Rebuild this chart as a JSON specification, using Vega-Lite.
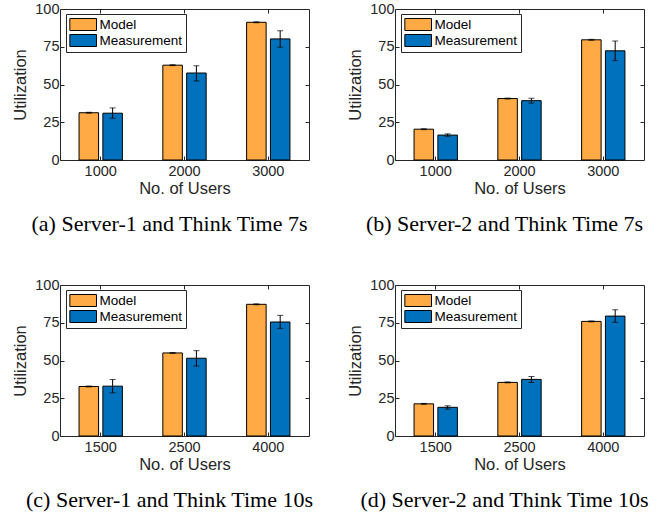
{
  "$schema": "https://vega.github.io/schema/vega-lite/v6.json",
  "padding": {"left": 12, "top": 0, "right": 0, "bottom": 0},
  "background": "white",
  "data": {"values": [
    {"panel": "a", "users": "1000", "series": "Model", "value": 31.3, "lo": 31.0, "hi": 31.6},
    {"panel": "a", "users": "1000", "series": "Measurement", "value": 31.0, "lo": 27.7, "hi": 34.5},
    {"panel": "a", "users": "2000", "series": "Model", "value": 62.8, "lo": 62.5, "hi": 63.1},
    {"panel": "a", "users": "2000", "series": "Measurement", "value": 57.6, "lo": 52.3, "hi": 62.4},
    {"panel": "a", "users": "3000", "series": "Model", "value": 91.2, "lo": 90.9, "hi": 91.5},
    {"panel": "a", "users": "3000", "series": "Measurement", "value": 80.2, "lo": 74.7, "hi": 85.6},
    {"panel": "b", "users": "1000", "series": "Model", "value": 20.4, "lo": 20.1, "hi": 20.7},
    {"panel": "b", "users": "1000", "series": "Measurement", "value": 16.5, "lo": 15.7, "hi": 17.3},
    {"panel": "b", "users": "2000", "series": "Model", "value": 40.7, "lo": 40.4, "hi": 41.0},
    {"panel": "b", "users": "2000", "series": "Measurement", "value": 39.3, "lo": 37.7, "hi": 40.9},
    {"panel": "b", "users": "3000", "series": "Model", "value": 79.6, "lo": 79.3, "hi": 79.9},
    {"panel": "b", "users": "3000", "series": "Measurement", "value": 72.3, "lo": 65.8, "hi": 78.8},
    {"panel": "c", "users": "1500", "series": "Model", "value": 32.8, "lo": 32.5, "hi": 33.1},
    {"panel": "c", "users": "1500", "series": "Measurement", "value": 33.0, "lo": 28.6, "hi": 37.4},
    {"panel": "c", "users": "2500", "series": "Model", "value": 55.0, "lo": 54.7, "hi": 55.3},
    {"panel": "c", "users": "2500", "series": "Measurement", "value": 51.5, "lo": 46.3, "hi": 56.5},
    {"panel": "c", "users": "4000", "series": "Model", "value": 87.2, "lo": 86.9, "hi": 87.5},
    {"panel": "c", "users": "4000", "series": "Measurement", "value": 75.5, "lo": 71.3, "hi": 79.9},
    {"panel": "d", "users": "1500", "series": "Model", "value": 21.3, "lo": 21.0, "hi": 21.6},
    {"panel": "d", "users": "1500", "series": "Measurement", "value": 19.0, "lo": 17.8, "hi": 20.0},
    {"panel": "d", "users": "2500", "series": "Model", "value": 35.5, "lo": 35.2, "hi": 35.8},
    {"panel": "d", "users": "2500", "series": "Measurement", "value": 37.5, "lo": 35.5, "hi": 39.4},
    {"panel": "d", "users": "4000", "series": "Model", "value": 75.9, "lo": 75.6, "hi": 76.2},
    {"panel": "d", "users": "4000", "series": "Measurement", "value": 79.4, "lo": 75.3, "hi": 83.6}
  ]},
  "columns": 2,
  "spacing": {"row": 125, "column": 86},
  "bounds": "flush",
  "resolve": {"scale": {"x": "independent", "y": "independent", "xOffset": "independent", "fill": "independent"}, "legend": {"fill": "independent"}},
  "concat": [
    {
      "width": 249, "height": 151,
      "title": {"text": "(a) Server-1 and Think Time 7s"},
      "transform": [{"filter": "datum.panel == 'a'"}],
      "resolve": {"axis": {"x": "independent", "y": "independent"}},
      "layer": [
        {"mark": {"type": "bar", "stroke": "black", "strokeWidth": 1},
         "encoding": {
           "x": {"field": "users", "type": "nominal", "sort": null, "scale": {"paddingInner": 0.483, "paddingOuter": 0.2275}, "axis": {"title": "No. of Users"}},
           "xOffset": {"field": "series", "sort": ["Model", "Measurement"], "scale": {"paddingInner": 0.18}},
           "y": {"field": "value", "type": "quantitative", "scale": {"domain": [0, 100]}, "axis": {"title": "Utilization", "values": [0, 25, 50, 75, 100]}},
           "fill": {"field": "series", "type": "nominal", "sort": ["Model", "Measurement"], "scale": {"range": ["#FFAA44", "#0072BD"]}, "legend": {"title": null}}
         }},
        {"mark": {"type": "rule", "color": "black", "strokeWidth": 1},
         "encoding": {
           "x": {"field": "users", "type": "nominal", "sort": null, "axis": null},
           "xOffset": {"field": "series", "sort": ["Model", "Measurement"]},
           "y": {"field": "lo", "type": "quantitative", "axis": null},
           "y2": {"field": "hi"}
         }},
        {"mark": {"type": "tick", "color": "black", "size": 6, "thickness": 1},
         "encoding": {
           "x": {"field": "users", "type": "nominal", "sort": null, "axis": null},
           "xOffset": {"field": "series", "sort": ["Model", "Measurement"]},
           "y": {"field": "lo", "type": "quantitative", "axis": null}
         }},
        {"mark": {"type": "tick", "color": "black", "size": 6, "thickness": 1},
         "encoding": {
           "x": {"field": "users", "type": "nominal", "sort": null, "axis": null},
           "xOffset": {"field": "series", "sort": ["Model", "Measurement"]},
           "y": {"field": "hi", "type": "quantitative", "axis": null}
         }},
        {"mark": {"type": "point", "opacity": 0},
         "encoding": {
           "x": {"field": "users", "type": "nominal", "sort": null, "axis": {"orient": "top", "labels": false, "title": null}},
           "y": {"field": "value", "type": "quantitative", "axis": {"orient": "right", "labels": false, "title": null, "values": [25, 50, 75]}}
         }}
      ]
    },
    {
      "width": 249, "height": 151,
      "title": {"text": "(b) Server-2 and Think Time 7s"},
      "transform": [{"filter": "datum.panel == 'b'"}],
      "resolve": {"axis": {"x": "independent", "y": "independent"}},
      "layer": [
        {"mark": {"type": "bar", "stroke": "black", "strokeWidth": 1},
         "encoding": {
           "x": {"field": "users", "type": "nominal", "sort": null, "scale": {"paddingInner": 0.483, "paddingOuter": 0.2275}, "axis": {"title": "No. of Users"}},
           "xOffset": {"field": "series", "sort": ["Model", "Measurement"], "scale": {"paddingInner": 0.18}},
           "y": {"field": "value", "type": "quantitative", "scale": {"domain": [0, 100]}, "axis": {"title": "Utilization", "values": [0, 25, 50, 75, 100]}},
           "fill": {"field": "series", "type": "nominal", "sort": ["Model", "Measurement"], "scale": {"range": ["#FFAA44", "#0072BD"]}, "legend": {"title": null}}
         }},
        {"mark": {"type": "rule", "color": "black", "strokeWidth": 1},
         "encoding": {
           "x": {"field": "users", "type": "nominal", "sort": null, "axis": null},
           "xOffset": {"field": "series", "sort": ["Model", "Measurement"]},
           "y": {"field": "lo", "type": "quantitative", "axis": null},
           "y2": {"field": "hi"}
         }},
        {"mark": {"type": "tick", "color": "black", "size": 6, "thickness": 1},
         "encoding": {
           "x": {"field": "users", "type": "nominal", "sort": null, "axis": null},
           "xOffset": {"field": "series", "sort": ["Model", "Measurement"]},
           "y": {"field": "lo", "type": "quantitative", "axis": null}
         }},
        {"mark": {"type": "tick", "color": "black", "size": 6, "thickness": 1},
         "encoding": {
           "x": {"field": "users", "type": "nominal", "sort": null, "axis": null},
           "xOffset": {"field": "series", "sort": ["Model", "Measurement"]},
           "y": {"field": "hi", "type": "quantitative", "axis": null}
         }},
        {"mark": {"type": "point", "opacity": 0},
         "encoding": {
           "x": {"field": "users", "type": "nominal", "sort": null, "axis": {"orient": "top", "labels": false, "title": null}},
           "y": {"field": "value", "type": "quantitative", "axis": {"orient": "right", "labels": false, "title": null, "values": [25, 50, 75]}}
         }}
      ]
    },
    {
      "width": 249, "height": 151,
      "title": {"text": "(c) Server-1 and Think Time 10s"},
      "transform": [{"filter": "datum.panel == 'c'"}],
      "resolve": {"axis": {"x": "independent", "y": "independent"}},
      "layer": [
        {"mark": {"type": "bar", "stroke": "black", "strokeWidth": 1},
         "encoding": {
           "x": {"field": "users", "type": "nominal", "sort": null, "scale": {"paddingInner": 0.483, "paddingOuter": 0.2275}, "axis": {"title": "No. of Users"}},
           "xOffset": {"field": "series", "sort": ["Model", "Measurement"], "scale": {"paddingInner": 0.18}},
           "y": {"field": "value", "type": "quantitative", "scale": {"domain": [0, 100]}, "axis": {"title": "Utilization", "values": [0, 25, 50, 75, 100]}},
           "fill": {"field": "series", "type": "nominal", "sort": ["Model", "Measurement"], "scale": {"range": ["#FFAA44", "#0072BD"]}, "legend": {"title": null}}
         }},
        {"mark": {"type": "rule", "color": "black", "strokeWidth": 1},
         "encoding": {
           "x": {"field": "users", "type": "nominal", "sort": null, "axis": null},
           "xOffset": {"field": "series", "sort": ["Model", "Measurement"]},
           "y": {"field": "lo", "type": "quantitative", "axis": null},
           "y2": {"field": "hi"}
         }},
        {"mark": {"type": "tick", "color": "black", "size": 6, "thickness": 1},
         "encoding": {
           "x": {"field": "users", "type": "nominal", "sort": null, "axis": null},
           "xOffset": {"field": "series", "sort": ["Model", "Measurement"]},
           "y": {"field": "lo", "type": "quantitative", "axis": null}
         }},
        {"mark": {"type": "tick", "color": "black", "size": 6, "thickness": 1},
         "encoding": {
           "x": {"field": "users", "type": "nominal", "sort": null, "axis": null},
           "xOffset": {"field": "series", "sort": ["Model", "Measurement"]},
           "y": {"field": "hi", "type": "quantitative", "axis": null}
         }},
        {"mark": {"type": "point", "opacity": 0},
         "encoding": {
           "x": {"field": "users", "type": "nominal", "sort": null, "axis": {"orient": "top", "labels": false, "title": null}},
           "y": {"field": "value", "type": "quantitative", "axis": {"orient": "right", "labels": false, "title": null, "values": [25, 50, 75]}}
         }}
      ]
    },
    {
      "width": 249, "height": 151,
      "title": {"text": "(d) Server-2 and Think Time 10s"},
      "transform": [{"filter": "datum.panel == 'd'"}],
      "resolve": {"axis": {"x": "independent", "y": "independent"}},
      "layer": [
        {"mark": {"type": "bar", "stroke": "black", "strokeWidth": 1},
         "encoding": {
           "x": {"field": "users", "type": "nominal", "sort": null, "scale": {"paddingInner": 0.483, "paddingOuter": 0.2275}, "axis": {"title": "No. of Users"}},
           "xOffset": {"field": "series", "sort": ["Model", "Measurement"], "scale": {"paddingInner": 0.18}},
           "y": {"field": "value", "type": "quantitative", "scale": {"domain": [0, 100]}, "axis": {"title": "Utilization", "values": [0, 25, 50, 75, 100]}},
           "fill": {"field": "series", "type": "nominal", "sort": ["Model", "Measurement"], "scale": {"range": ["#FFAA44", "#0072BD"]}, "legend": {"title": null}}
         }},
        {"mark": {"type": "rule", "color": "black", "strokeWidth": 1},
         "encoding": {
           "x": {"field": "users", "type": "nominal", "sort": null, "axis": null},
           "xOffset": {"field": "series", "sort": ["Model", "Measurement"]},
           "y": {"field": "lo", "type": "quantitative", "axis": null},
           "y2": {"field": "hi"}
         }},
        {"mark": {"type": "tick", "color": "black", "size": 6, "thickness": 1},
         "encoding": {
           "x": {"field": "users", "type": "nominal", "sort": null, "axis": null},
           "xOffset": {"field": "series", "sort": ["Model", "Measurement"]},
           "y": {"field": "lo", "type": "quantitative", "axis": null}
         }},
        {"mark": {"type": "tick", "color": "black", "size": 6, "thickness": 1},
         "encoding": {
           "x": {"field": "users", "type": "nominal", "sort": null, "axis": null},
           "xOffset": {"field": "series", "sort": ["Model", "Measurement"]},
           "y": {"field": "hi", "type": "quantitative", "axis": null}
         }},
        {"mark": {"type": "point", "opacity": 0},
         "encoding": {
           "x": {"field": "users", "type": "nominal", "sort": null, "axis": {"orient": "top", "labels": false, "title": null}},
           "y": {"field": "value", "type": "quantitative", "axis": {"orient": "right", "labels": false, "title": null, "values": [25, 50, 75]}}
         }}
      ]
    }
  ],
  "config": {
    "font": "Liberation Sans",
    "view": {"stroke": "#262626", "strokeWidth": 1},
    "axis": {
      "domain": false, "grid": false,
      "tickSize": -4, "tickColor": "#262626", "tickWidth": 1,
      "labelFont": "Liberation Sans", "labelFontSize": 14.5, "labelColor": "#262626",
      "titleFont": "Liberation Sans", "titleFontSize": 16.5, "titleFontWeight": "normal", "titleColor": "#262626"
    },
    "axisX": {"labelAngle": 0, "labelPadding": 8, "titlePadding": 3},
    "axisY": {"labelPadding": 5, "titlePadding": 6},
    "legend": {
      "orient": "none", "legendX": 6, "legendY": 5,
      "symbolType": "M-1,-0.9H3V0.9H-1Z", "symbolSize": 178,
      "symbolStrokeColor": "black", "symbolStrokeWidth": 1, "symbolOpacity": 1,
      "labelFont": "Liberation Sans", "labelFontSize": 13.5, "labelColor": "black",
      "labelOffset": 15.5, "rowPadding": -2,
      "strokeColor": "#262626", "fillColor": "white", "padding": 3, "cornerRadius": 0
    },
    "title": {
      "orient": "bottom", "font": "Liberation Serif", "fontSize": 22, "fontWeight": "normal",
      "color": "black", "dx": -15, "offset": 17
    }
  }
}
